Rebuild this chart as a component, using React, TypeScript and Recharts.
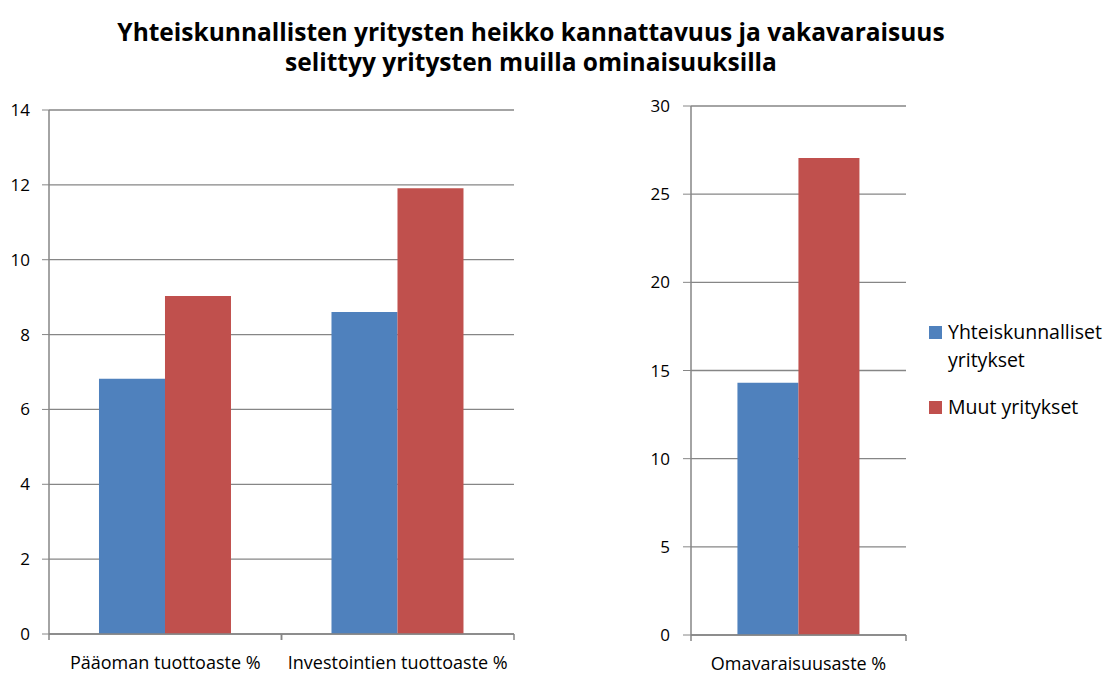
import React from 'react';
import { BarChart, Bar, XAxis, YAxis, CartesianGrid, Legend } from 'recharts';

const leftCategories = ['Pääoman tuottoaste %', 'Investointien tuottoaste %'];
const leftSocial = [6.82, 8.6];
const leftOther = [9.03, 11.91];
const leftTicks = [0, 2, 4, 6, 8, 10, 12, 14];

const rightCategories = ['Omavaraisuusaste %'];
const rightSocial = [14.3];
const rightOther = [27.05];
const rightTicks = [0, 5, 10, 15, 20, 25, 30];

const seriesNames = ['Yhteiskunnalliset yritykset', 'Muut yritykset'];
const seriesColors = ['#4F81BD', '#C0504D'];

const titleLines = [
  'Yhteiskunnallisten yritysten heikko kannattavuus ja vakavaraisuus',
  'selittyy yritysten muilla ominaisuuksilla',
];

const FONT = '"Open Sans", sans-serif';
const GRID = '#868686';

const leftData = leftCategories.map((name, i) => ({
  name,
  social: leftSocial[i],
  other: leftOther[i],
}));

const rightData = rightCategories.map((name, i) => ({
  name,
  social: rightSocial[i],
  other: rightOther[i],
}));

// x tick marks sit on the category boundaries, not the centres
function CategoryTick(props: any) {
  const { x, y, payload } = props;
  const half = payload?.offset ?? 0;
  return (
    <g>
      <line x1={x - half} x2={x - half} y1={y} y2={y + 6} stroke={GRID} strokeWidth={1.5} />
      <line x1={x + half} x2={x + half} y1={y} y2={y + 6} stroke={GRID} strokeWidth={1.5} />
      <text x={x} y={y + 35} textAnchor="middle" fontSize={18} fontFamily={FONT} fill="#000">
        {payload.value}
      </text>
    </g>
  );
}

function LegendContent() {
  return (
    <div style={{ fontFamily: FONT, fontSize: 19.5, color: '#000' }}>
      {seriesNames.map((name, i) => (
        <div key={name} style={{ display: 'flex', alignItems: 'flex-start', marginBottom: 19 }}>
          <span
            style={{
              display: 'inline-block',
              width: 13,
              height: 13,
              background: seriesColors[i],
              marginTop: 8,
              marginRight: 6,
              flex: 'none',
            }}
          />
          <span style={{ lineHeight: '28px', width: 165 }}>{name}</span>
        </div>
      ))}
    </div>
  );
}

const yTick = { fill: '#000', fontSize: 17, fontFamily: FONT };

export default function App() {
  return (
    <div style={{ position: 'absolute', left: 0, top: 0, width: 1113, height: 675, background: '#fff' }}>
      <div
        style={{
          position: 'absolute',
          left: 0,
          top: 17,
          width: 1062,
          textAlign: 'center',
          fontFamily: FONT,
          fontWeight: 'bold',
          fontSize: 24.5,
          lineHeight: '30px',
          color: '#000',
        }}
      >
        {titleLines.map((l) => (
          <div key={l}>{l}</div>
        ))}
      </div>

      <div style={{ position: 'absolute', left: 0, top: 0 }}>
        <BarChart
          width={530}
          height={675}
          data={leftData}
          margin={{ top: 110, right: 16, left: 0, bottom: 0 }}
          barCategoryGap="21.5%"
          barGap={0}
        >
          <CartesianGrid vertical={false} stroke={GRID} strokeWidth={1.3} />
          <XAxis
            dataKey="name"
            height={41}
            axisLine={{ stroke: GRID, strokeWidth: 1.5 }}
            tickLine={false}
            tickSize={0}
            tickMargin={0}
            tick={<CategoryTick />}
            interval={0}
          />
          <YAxis
            width={49}
            domain={[0, 14]}
            ticks={leftTicks}
            tick={yTick}
            tickSize={7}
            tickMargin={12}
            axisLine={{ stroke: GRID, strokeWidth: 1.5 }}
            tickLine={{ stroke: GRID }}
          />
          <Bar dataKey="social" name={seriesNames[0]} fill={seriesColors[0]} isAnimationActive={false} />
          <Bar dataKey="other" name={seriesNames[1]} fill={seriesColors[1]} isAnimationActive={false} />
        </BarChart>
      </div>

      <div style={{ position: 'absolute', left: 630, top: 0 }}>
        <BarChart
          width={483}
          height={675}
          data={rightData}
          margin={{ top: 106, right: 207, left: 0, bottom: 0 }}
          barCategoryGap="21.6%"
          barGap={0}
        >
          <CartesianGrid vertical={false} stroke={GRID} strokeWidth={1.3} />
          <XAxis
            dataKey="name"
            height={40}
            axisLine={{ stroke: GRID, strokeWidth: 1.5 }}
            tickLine={false}
            tickSize={0}
            tickMargin={0}
            tick={<CategoryTick />}
            interval={0}
          />
          <YAxis
            width={61}
            domain={[0, 30]}
            ticks={rightTicks}
            tick={yTick}
            tickSize={8}
            tickMargin={13}
            axisLine={{ stroke: GRID, strokeWidth: 1.5 }}
            tickLine={{ stroke: GRID }}
          />
          <Legend
            layout="vertical"
            align="center"
            verticalAlign="middle"
            content={<LegendContent />}
            wrapperStyle={{ left: 299, top: 318, width: 184 }}
          />
          <Bar dataKey="social" name={seriesNames[0]} fill={seriesColors[0]} isAnimationActive={false} />
          <Bar dataKey="other" name={seriesNames[1]} fill={seriesColors[1]} isAnimationActive={false} />
        </BarChart>
      </div>
    </div>
  );
}
